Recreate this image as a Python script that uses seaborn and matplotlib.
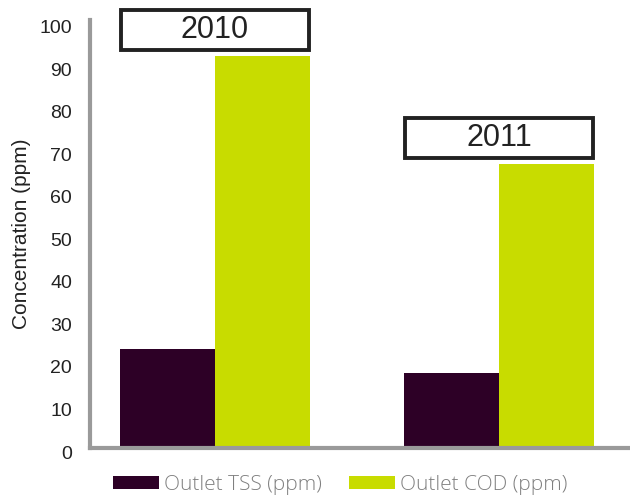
import matplotlib
matplotlib.use("Agg")
import matplotlib.pyplot as plt
import matplotlib.transforms as mtransforms
import seaborn as sns
import pandas as pd
from matplotlib.patches import Rectangle

years = ["2010", "2011"]
series = ["Outlet TSS (ppm)", "Outlet COD (ppm)"]
tss = [23.4, 17.7]
cod = [92.3, 66.9]
yticks = [0, 10, 20, 30, 40, 50, 60, 70, 80, 90, 100]
colors = ["#2d0026", "#c8dc00"]

df = pd.DataFrame({
    "year": years * 2,
    "series": [series[0]] * 2 + [series[1]] * 2,
    "value": tss + cod,
})

sns.set_theme(style="white")
plt.rcParams["font.family"] = ["Liberation Sans", "DejaVu Sans"]

fig = plt.figure(figsize=(6.3, 4.98), dpi=100)
ax = fig.add_axes([90 / 630, 1 - 448 / 498, 540 / 630, 428 / 498])

sns.barplot(data=df, x="year", y="value", hue="series", palette=colors,
            width=0.67, saturation=1, ax=ax, legend=False, linewidth=0)

ax.set_xlim(-0.44, 1.46)
ax.set_ylim(0, 100.7)
ax.set_yticks(yticks)
ax.set_yticklabels([str(t) for t in yticks], fontsize=14, color="#222222")
ax.tick_params(axis="y", length=0, pad=13)
offset = mtransforms.ScaledTranslation(0, -4 / 100, fig.dpi_scale_trans)
for lbl in ax.get_yticklabels():
    lbl.set_transform(lbl.get_transform() + offset)
ax.set_xticks([])
ax.set_xticks([-0.44], minor=True)
ax.tick_params(axis="x", which="minor", length=7, width=3, color="#9a9a9a",
               labelbottom=False)
ax.set_xlabel("")
ax.set_ylabel("Concentration (ppm)", fontsize=15, color="#222222", labelpad=6)

for side in ["top", "right"]:
    ax.spines[side].set_visible(False)
for side in ["left", "bottom"]:
    ax.spines[side].set_color("#9a9a9a")
    ax.spines[side].set_linewidth(3)

# year label boxes above each group
for i, (yr, top) in enumerate(zip(years, cod)):
    y0 = top + 1.4
    rect = Rectangle((i - 0.33, y0), 0.66, 9.4, fill=False, edgecolor="#222222",
                     linewidth=2.8, clip_on=False, transform=ax.transData)
    ax.add_patch(rect)
    ax.text(i, y0 + 4.7, yr, ha="center", va="center", fontsize=22,
            color="#222222", clip_on=False)

handles = [Rectangle((0, 0), 1, 1, facecolor=c, edgecolor="none") for c in colors]
leg = fig.legend(handles, series, loc="center", bbox_to_anchor=(0.54, 0.027),
                 ncol=2, frameon=False, handlelength=2.2,
                 handleheight=0.6, handletextpad=0.25, columnspacing=1.3,
                 prop={"family": ["Open Sans", "DejaVu Sans"], "size": 15,
                       "weight": "light"})
for t in leg.get_texts():
    t.set_color("#808080")

fig.savefig("out.png", dpi=100)
